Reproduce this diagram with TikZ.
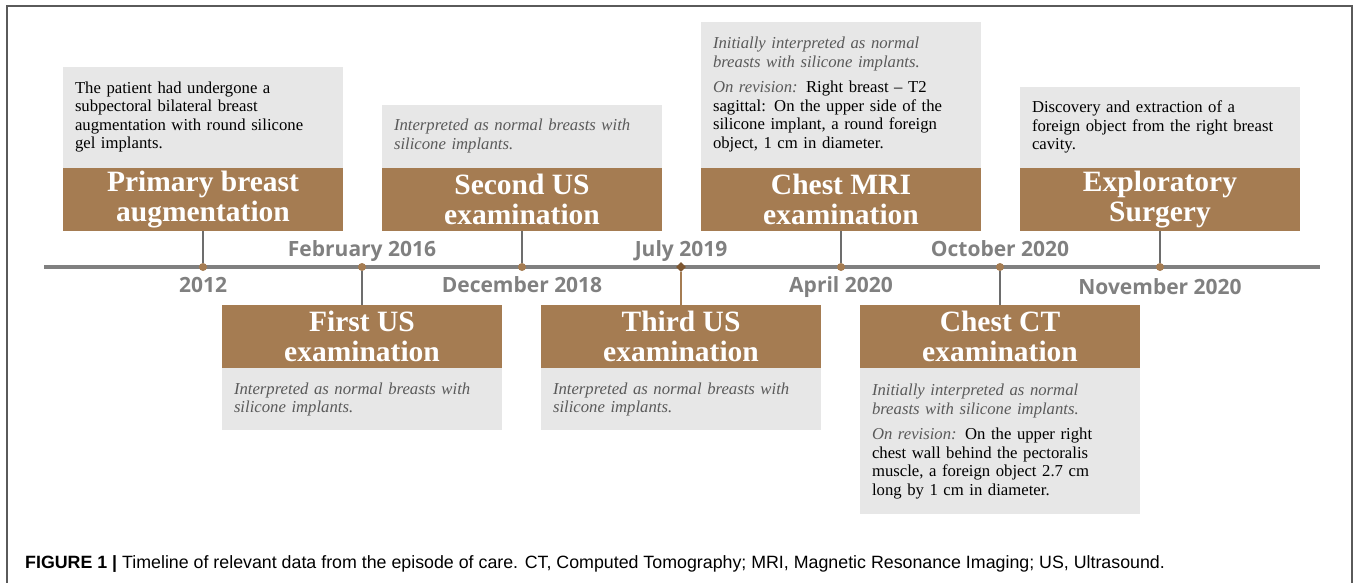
\documentclass[tikz,border=0pt]{standalone}
\usepackage{fontspec}
\setmainfont{Liberation Serif}
\newfontfamily\datefont{Open Sans}
\newfontfamily\capfont{Liberation Sans}
\usepackage{tikz}
\usetikzlibrary{positioning}
\usetikzlibrary{shapes.geometric}

\definecolor{tanbrown}{RGB}{165,124,82}
\definecolor{darkbrown}{RGB}{125,86,48}
\definecolor{boxgray}{RGB}{231,231,231}
\definecolor{linegray}{RGB}{128,128,128}
\definecolor{notegray}{RGB}{90,90,90}
\definecolor{framegray}{RGB}{90,90,90}

\newcommand{\notetext}[1]{{\itshape\color{notegray}#1}}

\begin{document}
\begin{tikzpicture}[x=1pt,y=-1pt,
    eventtitle/.style={fill=tanbrown, text=white, font=\fontsize{29.5}{30}\selectfont\bfseries,
        minimum width=280pt, minimum height=63pt, inner sep=0pt, align=center},
    eventdesc/.style={fill=boxgray, minimum width=280pt, text width=256pt, inner xsep=12pt,
        inner ysep=0pt, align=left, font=\fontsize{16.7}{18.5}\selectfont},
    dot/.style={circle, fill=tanbrown, inner sep=0pt, minimum size=8pt},
    ddot/.style={diamond, fill=darkbrown, inner sep=0pt, minimum size=10pt},
    datelabel/.style={font=\datefont\bfseries\fontsize{21}{24}\selectfont, text=linegray, inner sep=0pt},
    link/.style={draw=linegray!85!black, line width=1.6pt}]
\useasboundingbox (0,0) rectangle (1357,583);
\draw[framegray, line width=1.2pt] (7,583) -- (7,6) -- (1352,6) -- (1352,583);

% timeline
\coordinate (start) at (44,267);
\coordinate (end) at (1320,267);
\draw[linegray, line width=4pt] (start) -- (end);
\foreach \N/\X/\Shape in {1/203/dot, 2/362/dot, 3/522/dot, 4/681/ddot, 5/841/dot, 6/1000/dot, 7/1160/dot}
    \node[\Shape] (d\N) at (\X,267) {};
\foreach \N/\X/\Y/\Date in {1/203/292/2012, 2/362/256/February 2016, 3/522/292/December 2018,
        4/681/256/July 2019, 5/841/292/April 2020, 6/1000/256/October 2020, 7/1160/294/November 2020}
    \node[datelabel, anchor=base] (date\N) at (\X,\Y) {\Date};

% events above the line
\node[eventtitle] (t1) at (203,199.5) {Primary breast\\augmentation};
\node[eventdesc, minimum height=101pt, above=0pt of t1] (b1) {The patient had undergone a\\
    subpectoral bilateral breast\\augmentation with round silicone\\gel implants.};
\node[eventtitle] (t3) at (522,199.5) {Second US\\examination};
\node[eventdesc, minimum height=63pt, above=0pt of t3] (b3) {\notetext{Interpreted as normal breasts with}\\
    \notetext{silicone implants.}};
\node[eventtitle] (t5) at (841,199.5) {Chest MRI\\examination};
\node[eventdesc, minimum height=146pt, above=0pt of t5] (b5) {\notetext{Initially interpreted as normal}\\
    \notetext{breasts with silicone implants.}\\[7pt]
    \notetext{On revision:} Right breast -- T2\\sagittal: On the upper side of the\\
    silicone implant, a round foreign\\object, 1 cm in diameter.};
\node[eventtitle] (t7) at (1160,199.5) {Exploratory\\Surgery};
\node[eventdesc, minimum height=81pt, above=0pt of t7] (b7) {Discovery and extraction of a\\
    foreign object from the right breast\\cavity.};

% events below the line
\node[eventtitle] (t2) at (362,336.5) {First US\\examination};
\node[eventdesc, minimum height=62pt, below=0pt of t2] (b2) {\notetext{Interpreted as normal breasts with}\\
    \notetext{silicone implants.}};
\node[eventtitle] (t4) at (681,336.5) {Third US\\examination};
\node[eventdesc, minimum height=62pt, below=0pt of t4] (b4) {\notetext{Interpreted as normal breasts with}\\
    \notetext{silicone implants.}};
\node[eventtitle] (t6) at (1000,336.5) {Chest CT\\examination};
\node[eventdesc, minimum height=146pt, below=0pt of t6] (b6) {\notetext{Initially interpreted as normal}\\
    \notetext{breasts with silicone implants.}\\[7pt]
    \notetext{On revision:} On the upper right\\chest wall behind the pectoralis\\
    muscle, a foreign object 2.7 cm\\long by 1 cm in diameter.};

% connectors
\foreach \N in {1,3,5,7}
    \draw[link] (d\N) -- (t\N.south);
\foreach \N in {2,6}
    \draw[link] (d\N) -- (t\N.north);
\draw[tanbrown, line width=1.2pt] (d4) -- (t4.north);

\node[anchor=base west, inner sep=0pt, font=\capfont\fontsize{17.8}{20}\selectfont] (caption) at (25,568)
    {{\bfseries FIGURE 1 |} Timeline of relevant data from the episode of care. CT, Computed Tomography; MRI, Magnetic Resonance Imaging; US, Ultrasound.};
\end{tikzpicture}
\end{document}
